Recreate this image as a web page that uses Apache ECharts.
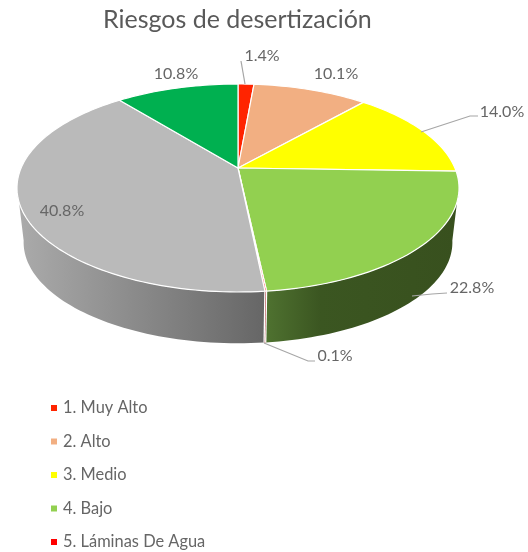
<!DOCTYPE html>
<html><head><meta charset="utf-8">
<style>html,body{margin:0;padding:0;background:#fff}#c{width:528px;height:552px}</style>
<script src="https://cdn.jsdelivr.net/npm/echarts@6/dist/echarts.min.js"></script>
</head><body><div id="c"></div>
<script>
const categories = ['1. Muy Alto','2. Alto','3. Medio','4. Bajo','5. Láminas De Agua','6. Moderado','7. Sin Riesgo'];
const legendCategories = ['1. Muy Alto','2. Alto','3. Medio','4. Bajo','5. Láminas De Agua'];
const values = [1.4,10.1,14.0,22.8,0.1,40.8,10.8];
const colors = ['#FF2400','#F2AF82','#FFFF00','#92D050','#FF0000','#BABABA','#00B050'];
const wallNear = ['#991500','#91694e','#999900','#4F7230','#990000','#666666','#006a30'];
const wallMid  = ['#991500','#91694e','#999900','#3B5621','#990000','#7A7A7A','#006a30'];
const wallFar  = ['#991500','#91694e','#999900','#38501E','#990000','#ABABAB','#006a30'];
const labelCenters = [[262,56],[336,74],[502,112],[472,288],[335,356],[62,211],[176,74]];
const leaderLines = [
  [[245,84],[241,61]], null, [[421,132],[470,116],[478,116]],
  [[412,296],[432,294],[447,293]], [[264,343],[308,361],[315,361]], null, null
];

// perspective view of the pie's circle
const APEX_X = 238, APEX_Y = 168, P = 0.1923, SY = 100.15, RX = 216.9;
function project(deg, scale, dy) {
  const t = deg * Math.PI / 180, u = Math.sin(t), v = Math.cos(t), w = 1 + P * v;
  return [APEX_X + scale * RX * u / w, APEX_Y + (dy || 0) - scale * SY * v / w];
}
function arc(a0, a1, scale, dy) {
  const pts = [], n = Math.max(2, Math.ceil(Math.abs(a1 - a0) / 1.5));
  for (let i = 0; i <= n; i++) pts.push(project(a0 + (a1 - a0) * i / n, scale, dy));
  return pts;
}
const total = values.reduce((a, b) => a + b, 0);
let acc = 0;
const rows = values.map((v, i) => { const r = [v, acc, i]; acc += v; return r; });
const DEPTH = 55, BOTTOM = 0.97;
const FRONT_FROM = 100, FRONT_TO = 260; // only this part of the rim faces the viewer
const angle = x => x / total * 360;

function renderWall(params, api) {
  const a0 = angle(api.value(1)), a1 = a0 + angle(api.value(0)), i = api.value(2);
  const from = Math.max(a0, FRONT_FROM), to = Math.min(a1, FRONT_TO);
  if (to <= from) return { type:'group', children:[] };
  const points = arc(from, to, 1, 0).concat(arc(from, to, BOTTOM, DEPTH).reverse());
  const xs = points.map(p => p[0]);
  const toLeft = (from + to) / 2 > 180;
  const nearX = toLeft ? Math.max(...xs) : Math.min(...xs);
  const farX = toLeft ? Math.min(...xs) : Math.max(...xs);
  const fill = {type:'linear',global:true,x:nearX,y:0,x2:farX,y2:0,
    colorStops:[{offset:0,color:wallNear[i]},{offset:0.28,color:wallMid[i]},{offset:1,color:wallFar[i]}]};
  const children = [{ type:'polygon', shape:{points}, style:{ fill } }];
  if (a0 >= FRONT_FROM) children.push({ type:'polyline',
    shape:{points:[project(a0,1,0), project(a0,BOTTOM,DEPTH)]},
    style:{ fill:'none', stroke:'#fff', lineWidth:1.3 } });
  return { type:'group', children };
}
function renderTop(params, api) {
  const a0 = angle(api.value(1)), a1 = a0 + angle(api.value(0));
  return { type:'polygon', shape:{points:[[APEX_X,APEX_Y]].concat(arc(a0,a1,1,0))},
    style:{ fill:api.visual('color'), stroke:'#fff', lineWidth:1.2, lineJoin:'round' } };
}
function renderLabel(params, api) {
  const i = api.value(2), children = [];
  if (leaderLines[i]) children.push({ type:'polyline', shape:{points:leaderLines[i]},
    style:{ fill:'none', stroke:'#a6a6a6', lineWidth:1.2 } });
  children.push({ type:'text', style:{ x:labelCenters[i][0], y:labelCenters[i][1],
    text:api.value(0).toFixed(1)+'%', align:'center', verticalAlign:'middle',
    font:'16px Lato', fill:'#666666' } });
  return { type:'group', children };
}

const series = [
  { type:'custom', name:'caras', coordinateSystem:'none', silent:true, z:1, animation:false,
    renderItem:renderWall, data:rows },
  ...categories.map((name, i) => ({
    type:'custom', name, coordinateSystem:'none', z:2, animation:false,
    itemStyle:{color:colors[i]}, renderItem:renderTop, data:[rows[i]] })),
  { type:'custom', name:'etiquetas', coordinateSystem:'none', silent:true, z:3, animation:false,
    renderItem:renderLabel, data:rows }
];
const chart = echarts.init(document.getElementById('c'), null, {renderer:'canvas'});
chart.setOption({
  backgroundColor:'#fff', animation:false,
  title:{ text:'Riesgos de desertización', left:103, top:7, padding:0,
    textStyle:{ fontFamily:'Lato', fontSize:25, fontWeight:'normal', color:'#595959' } },
  legend:{ data:legendCategories, orient:'vertical', left:51, top:400, padding:0, icon:'rect',
    itemWidth:6, itemHeight:6, itemGap:17.5, selectedMode:false,
    textStyle:{ fontFamily:'Lato', fontSize:16.4, color:'#666666', padding:[0,0,0,1], lineHeight:16 } },
  series
});
</script></body></html>
